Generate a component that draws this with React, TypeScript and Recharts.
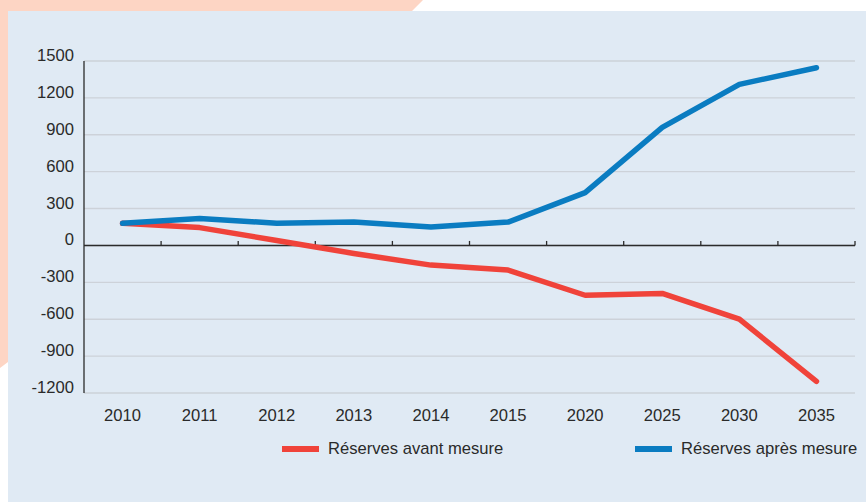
import React from 'react';
import { LineChart, Line, XAxis, YAxis, CartesianGrid, ReferenceLine } from 'recharts';

const years = ['2010', '2011', '2012', '2013', '2014', '2015', '2020', '2025', '2030', '2035'];
const avantMesure = [180, 145, 40, -65, -160, -200, -405, -390, -600, -1105];
const apresMesure = [180, 220, 180, 190, 150, 190, 430, 960, 1310, 1445];
const yTicks = [-1200, -900, -600, -300, 0, 300, 600, 900, 1200, 1500];

const seriesNames = ['Réserves avant mesure', 'Réserves après mesure'];
const RED = '#f0433a';
const BLUE = '#0a7cc1';
const FONT = '"Liberation Sans", Arial, Helvetica, sans-serif';
const TEXT = '#2a2a2a';

const data = years.map((year, i) => ({
  year,
  avant: avantMesure[i],
  apres: apresMesure[i],
}));

// zero line with small upward ticks at each category boundary
function ZeroAxis(props: any) {
  const { x1, y1, x2 } = props;
  const step = (x2 - x1) / years.length;
  return (
    <g>
      <line x1={x1} y1={y1} x2={x2} y2={y1} stroke="#2b2b2b" strokeWidth={1.6} />
      {years.map((_, i) => (
        <line
          key={i}
          x1={x1 + step * (i + 1)}
          x2={x1 + step * (i + 1)}
          y1={y1}
          y2={y1 - 4.5}
          stroke="#2b2b2b"
          strokeWidth={1.3}
        />
      ))}
    </g>
  );
}

function YTick(props: any) {
  const { x, y, payload } = props;
  return (
    <text x={x} y={y} textAnchor="end" fill={TEXT} fontSize={16.6} fontFamily={FONT}>
      {payload.value}
    </text>
  );
}

export default function App() {
  return (
    <div style={{ position: 'absolute', left: 0, top: 0, width: 866, height: 502, background: '#fff', overflow: 'hidden' }}>
      <svg width={866} height={502} style={{ position: 'absolute', left: 0, top: 0 }}>
        <polygon points="0,0 423,0 412,11 8,11 8,362 0,368" fill="#fdd5c4" />
        <rect x={8} y={11} width={858} height={491} fill="#e0eaf4" />
      </svg>
      <div style={{ position: 'absolute', left: 0, top: 0 }}>
        <LineChart width={866} height={502} data={data} margin={{ top: 61, right: 11, bottom: 79, left: 0 }}>
          <CartesianGrid vertical={false} stroke="#cdd2d9" strokeWidth={1.4} />
          <XAxis
            dataKey="year"
            scale="band"
            axisLine={false}
            tickLine={false}
            tickMargin={10}
            height={30}
            interval={0}
            tick={{ fill: TEXT, fontSize: 16.6, fontFamily: FONT }}
          />
          <YAxis
            width={84}
            domain={[-1200, 1500]}
            ticks={yTicks}
            interval={0}
            axisLine={{ stroke: '#2b2b2b', strokeWidth: 1.3 }}
            tickLine={false}
            tickMargin={4}
            tick={<YTick />}
          />
          <ReferenceLine y={0} shape={<ZeroAxis />} />
          <Line
            type="linear"
            dataKey="avant"
            name={seriesNames[0]}
            stroke={RED}
            strokeWidth={5.5}
            strokeLinecap="round"
            strokeLinejoin="round"
            dot={false}
            activeDot={false}
            isAnimationActive={false}
          />
          <Line
            type="linear"
            dataKey="apres"
            name={seriesNames[1]}
            stroke={BLUE}
            strokeWidth={5.5}
            strokeLinecap="round"
            strokeLinejoin="round"
            dot={false}
            activeDot={false}
            isAnimationActive={false}
          />
        </LineChart>
      </div>
      {[
        { name: seriesNames[0], color: RED, left: 282 },
        { name: seriesNames[1], color: BLUE, left: 635 },
      ].map((item) => (
        <div
          key={item.name}
          style={{
            position: 'absolute',
            left: item.left,
            top: 438,
            height: 22,
            display: 'flex',
            alignItems: 'center',
            fontFamily: FONT,
            fontSize: 16.6,
            color: TEXT,
            whiteSpace: 'nowrap',
          }}
        >
          <span style={{ display: 'inline-block', width: 37, height: 6, background: item.color, marginRight: 9 }} />
          <span>{item.name}</span>
        </div>
      ))}
    </div>
  );
}
